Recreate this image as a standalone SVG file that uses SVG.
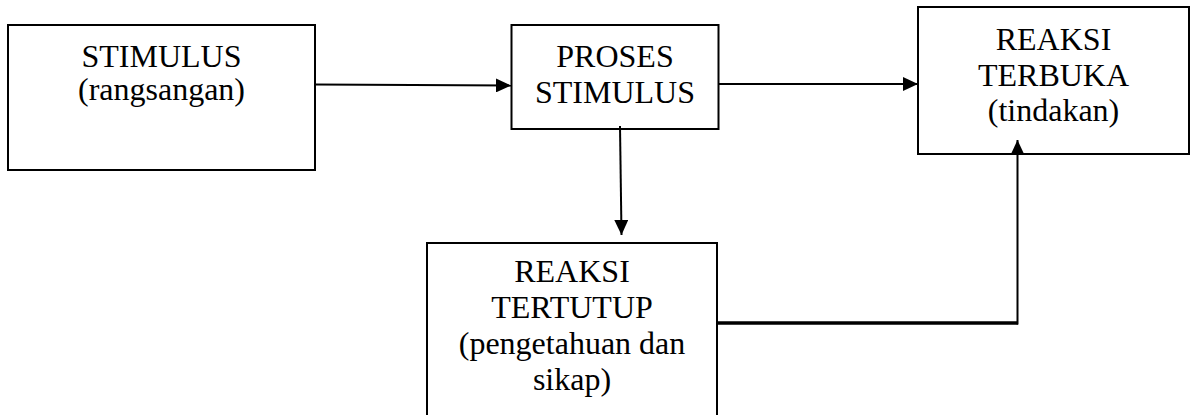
<svg xmlns="http://www.w3.org/2000/svg" width="1195" height="415" viewBox="0 0 1195 415">
  <style>
    .box { fill: #ffffff; stroke: #000000; stroke-width: 2; }
    .lbl { font-family: 'Liberation Serif', 'DejaVu Serif', serif; font-size: 32px; fill: #000000; text-anchor: middle; }
    .conn { fill: none; stroke: #000000; stroke-width: 2; }
  </style>
  <defs>
    <marker id="arrow" viewBox="0 0 15 14" refX="15" refY="7" markerWidth="15" markerHeight="14" markerUnits="userSpaceOnUse" orient="auto">
      <path d="M0,0 L15,7 L0,14 Z" fill="#000000"/>
    </marker>
  </defs>
  <rect width="1195" height="415" fill="#ffffff"/>

  <g id="node-stimulus">
    <rect class="box" x="8" y="25" width="307" height="145"/>
    <text class="lbl" x="161.5" y="67">STIMULUS</text>
    <text class="lbl" x="161.5" y="100">(rangsangan)</text>
  </g>

  <g id="node-proses">
    <rect class="box" x="511.5" y="25" width="207" height="104"/>
    <text class="lbl" x="615" y="67">PROSES</text>
    <text class="lbl" x="615" y="103">STIMULUS</text>
  </g>

  <g id="node-reaksi-terbuka">
    <rect class="box" x="918" y="7" width="271" height="147"/>
    <text class="lbl" x="1053.5" y="50">REAKSI</text>
    <text class="lbl" x="1053.5" y="86">TERBUKA</text>
    <text class="lbl" x="1053.5" y="121">(tindakan)</text>
  </g>

  <g id="node-reaksi-tertutup">
    <rect class="box" x="427" y="243" width="290" height="200"/>
    <text class="lbl" x="572" y="282">REAKSI</text>
    <text class="lbl" x="572" y="318">TERTUTUP</text>
    <text class="lbl" x="572" y="354">(pengetahuan dan</text>
    <text class="lbl" x="572" y="390">sikap)</text>
  </g>

  <g id="connectors">
    <line class="conn" x1="315" y1="84.5" x2="511" y2="85.5" marker-end="url(#arrow)"/>
    <line class="conn" x1="718.5" y1="84" x2="918" y2="84" marker-end="url(#arrow)"/>
    <line class="conn" x1="620" y1="126" x2="621.5" y2="235" marker-end="url(#arrow)"/>
    <line x1="717" y1="323" x2="1018" y2="323" stroke="#000000" stroke-width="3.5"/>
    <line class="conn" x1="1017.5" y1="324.5" x2="1017.5" y2="140" marker-end="url(#arrow)"/>
  </g>
</svg>
